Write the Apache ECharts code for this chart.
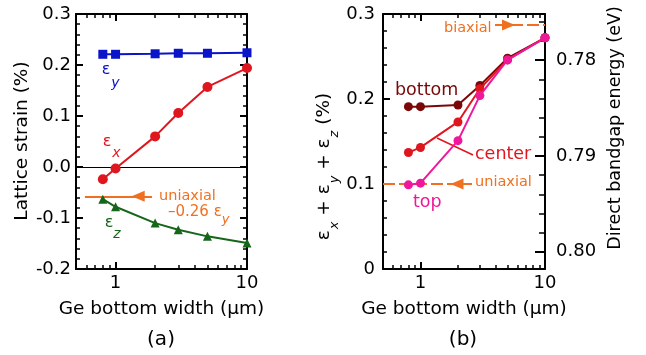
<!DOCTYPE html>
<html>
<head>
<meta charset="utf-8">
<script src="https://cdn.jsdelivr.net/npm/echarts@6/dist/echarts.min.js"></script>
<style>
  html, body { margin: 0; padding: 0; background: #fff; }
  #chart { width: 646px; height: 355px; }
</style>
</head>
<body>
<div id="chart"></div>
<script>
// Ge bottom width (µm) of each simulated structure
const widths = [0.8, 1, 2, 3, 5, 10];

// (a) lattice strain components (%)
const epsY = [0.221, 0.221, 0.222, 0.223, 0.223, 0.224];
const epsX = [-0.024, -0.003, 0.060, 0.106, 0.157, 0.194];
const epsZ = [-0.063, -0.078, -0.110, -0.123, -0.136, -0.149];
// uniaxial reference: eps_x = eps_z = -0.26 eps_y
const uniaxialRatio = -0.26;

// (b) volumetric strain eps_x + eps_y + eps_z (%) at three heights
const sumBottom = [0.191, 0.191, 0.193, 0.216, 0.248, 0.272];
const sumCenter = [0.137, 0.143, 0.173, 0.212, 0.246, 0.272];
const sumTop    = [0.099, 0.101, 0.151, 0.204, 0.246, 0.272];
const uniaxialSum = 0.100;
const biaxialSum  = 0.287;

// direct bandgap (eV) as a linear function of volumetric strain (%)
const bandgapAtZeroStrain = 0.8018;
const bandgapPerStrain = -0.0887;

// tick values
const widthMinorTicks = [0.6, 0.7, 0.8, 0.9, 2, 3, 4, 5, 6, 7, 8, 9];
const energyTicks = [0.78, 0.79, 0.80];
const energyMinorTicks = [0.776, 0.778, 0.782, 0.784, 0.786, 0.788, 0.792, 0.794, 0.796, 0.798];

const FONT = 'DejaVu Sans';
const C = {
  blue: '#0a14c8', red: '#e0161e', green: '#16661a', orange: '#ef7020',
  dark: '#7a0808', pink: '#f0189a'
};

const strainMax = 0.3;
const energyMin = bandgapAtZeroStrain + bandgapPerStrain * strainMax;
const energyMax = bandgapAtZeroStrain;

const pts = ys => widths.map((w, i) => [w, ys[i]]);

function xLog(grid, pos, labels) {
  return {
    type: 'log', logBase: 10, gridIndex: grid, position: pos, min: 0.5, max: 10,
    axisLine: { show: true, onZero: false, lineStyle: { color: '#000', width: 2 } },
    axisTick: { show: true, inside: true, length: 7, lineStyle: { color: '#000', width: 2 } },
    axisLabel: {
      show: labels, color: '#000', fontFamily: FONT, fontSize: 18, margin: 5,
      formatter: v => (Math.abs(v - 1) < 1e-9 || Math.abs(v - 10) < 1e-9) ? String(Math.round(v)) : ''
    },
    splitLine: { show: false }, minorTick: { show: false }
  };
}
function xMinor(grid, pos) {
  return {
    type: 'value', gridIndex: grid, position: pos, min: Math.log10(0.5), max: 1,
    axisLine: { show: false, onZero: false },
    axisTick: { show: true, inside: true, length: 4, customValues: widthMinorTicks.map(Math.log10),
                lineStyle: { color: '#000', width: 1.5 } },
    axisLabel: { show: false }, splitLine: { show: false }
  };
}
function yStrain(grid, pos, min, labels, fmt, margin) {
  return {
    type: 'value', gridIndex: grid, position: pos, min: min, max: strainMax, interval: 0.1,
    axisLine: { show: true, onZero: false, lineStyle: { color: '#000', width: 2 } },
    axisTick: { show: true, inside: true, length: 7, lineStyle: { color: '#000', width: 2 } },
    minorTick: { show: true, splitNumber: 5, length: 4, lineStyle: { color: '#000', width: 1.5 } },
    axisLabel: { show: labels, color: '#000', fontFamily: FONT, fontSize: 18, margin: margin, formatter: fmt },
    splitLine: { show: false }
  };
}

const fmtA = v => Math.abs(v) < 1e-9 ? '0.0' : v.toFixed(1);
const fmtB = v => Math.abs(v) < 1e-9 ? '0' : v.toFixed(1);

const uniaxialA = uniaxialRatio * epsY[0];

function text(x, y, str, size, color, extra) {
  return Object.assign({
    type: 'text', x: x, y: y, silent: true,
    style: Object.assign({
      text: str, fill: color || '#000', fontFamily: FONT, fontSize: size,
      align: 'left', verticalAlign: 'middle'
    }, (extra && extra.style) || {})
  }, extra && extra.el ? extra.el : {});
}
const center = { style: { align: 'center' } };
const sub = { style: { align: 'center', fontStyle: 'italic' } };
const vertical = { style: { align: 'center' }, el: { rotation: Math.PI / 2 } };

const arrowHead = { symbol: 'triangle', symbolSize: [11, 13] };

const option = {
  animation: false,
  backgroundColor: '#fff',
  grid: [
    { left: 76, top: 14, width: 171, height: 255, outerBoundsMode: 'none' },
    { left: 383, top: 14, width: 162, height: 255, outerBoundsMode: 'none' }
  ],
  xAxis: [
    xLog(0, 'bottom', true), xLog(0, 'top', false), xMinor(0, 'bottom'), xMinor(0, 'top'),
    xLog(1, 'bottom', true), xLog(1, 'top', false), xMinor(1, 'bottom'), xMinor(1, 'top')
  ],
  yAxis: [
    yStrain(0, 'left', -0.2, true, fmtA, 5),
    yStrain(0, 'right', -0.2, false, fmtA, 5),
    yStrain(1, 'left', 0, true, fmtB, 8),
    {
      type: 'value', gridIndex: 1, position: 'right', inverse: true, min: energyMin, max: energyMax,
      axisLine: { show: true, onZero: false, lineStyle: { color: '#000', width: 2 } },
      axisTick: { show: true, inside: true, length: 10, customValues: energyTicks,
                  lineStyle: { color: '#000', width: 2 } },
      axisLabel: { show: true, customValues: energyTicks, color: '#000', fontFamily: FONT, fontSize: 18,
                   margin: 11, formatter: v => v.toFixed(2) },
      splitLine: { show: false }
    },
    {
      type: 'value', gridIndex: 1, position: 'right', inverse: true, min: energyMin, max: energyMax,
      axisLine: { show: false, onZero: false },
      axisTick: { show: true, inside: true, length: 6, customValues: energyMinorTicks,
                  lineStyle: { color: '#000', width: 1.5 } },
      axisLabel: { show: false }, splitLine: { show: false }
    }
  ],
  series: [
    // (a) uniaxial reference arrow
    {
      type: 'line', xAxisIndex: 0, yAxisIndex: 0, data: [], silent: true,
      markLine: {
        z: 1, silent: true, symbol: ['none', 'none'], label: { show: false },
        lineStyle: { color: C.orange, width: 2, type: 'solid' },
        data: [
          [{ coord: [0.585, uniaxialA] }, { coord: [1.89, uniaxialA] }],
          [Object.assign({ coord: [1.486, uniaxialA] }, arrowHead), { coord: [1.89, uniaxialA], symbol: 'none' }]
        ]
      }
    },
    {
      name: 'εy', type: 'line', xAxisIndex: 0, yAxisIndex: 0, data: pts(epsY),
      symbol: 'rect', symbolSize: 9, color: C.blue, lineStyle: { width: 2 }, z: 3
    },
    {
      name: 'εx', type: 'line', xAxisIndex: 0, yAxisIndex: 0, data: pts(epsX),
      symbol: 'circle', symbolSize: 10, color: C.red, lineStyle: { width: 2 }, z: 3,
      markLine: {
        z: 1, silent: true, symbol: ['none', 'none'], label: { show: false },
        lineStyle: { color: '#000', width: 1, type: 'solid' },
        data: [{ yAxis: 0 }]
      }
    },
    {
      name: 'εz', type: 'line', xAxisIndex: 0, yAxisIndex: 0, data: pts(epsZ),
      symbol: 'triangle', symbolSize: 9, color: C.green, lineStyle: { width: 2 }, z: 3
    },
    // (b) uniaxial and biaxial reference arrows
    {
      type: 'line', xAxisIndex: 4, yAxisIndex: 2, data: [], silent: true,
      markLine: {
        z: 1, silent: true, symbol: ['none', 'none'], label: { show: false },
        lineStyle: { color: C.orange, width: 2, type: [12, 4] },
        data: [
          [{ coord: [0.5, uniaxialSum] }, { coord: [2.59, uniaxialSum] }],
          [Object.assign({ coord: [1.965, uniaxialSum] }, arrowHead), { coord: [2.59, uniaxialSum], symbol: 'none' }],
          [{ coord: [3.97, biaxialSum] }, { coord: [10, biaxialSum] }],
          [{ coord: [3.97, biaxialSum], symbol: 'none' }, Object.assign({ coord: [5.09, biaxialSum] }, arrowHead)]
        ]
      }
    },
    {
      name: 'bottom', type: 'line', xAxisIndex: 4, yAxisIndex: 2, data: pts(sumBottom),
      symbol: 'circle', symbolSize: 9, color: C.dark, lineStyle: { width: 2 }, z: 3
    },
    {
      name: 'center', type: 'line', xAxisIndex: 4, yAxisIndex: 2, data: pts(sumCenter),
      symbol: 'circle', symbolSize: 9, color: C.red, lineStyle: { width: 2 }, z: 4
    },
    {
      name: 'top', type: 'line', xAxisIndex: 4, yAxisIndex: 2, data: pts(sumTop),
      symbol: 'circle', symbolSize: 9, color: C.pink, lineStyle: { width: 2 }, z: 5
    }
  ],
  graphic: {
    elements: [
      // axis titles
      text(22, 141, 'Lattice strain (%)', 18.5, '#000', vertical),
      text(161.5, 309, 'Ge bottom width (μm)', 18.5, '#000', center),
      text(464, 309, 'Ge bottom width (μm)', 18.5, '#000', center),
      text(161, 340, '(a)', 20, '#000', center),
      text(463, 340, '(b)', 20, '#000', center),
      text(615, 128, 'Direct bandgap energy (eV)', 17.5, '#000', vertical),
      {
        type: 'text', x: 325.5, y: 166.5, rotation: Math.PI / 2, silent: true,
        style: {
          text: '{e|ε}{s|x}{e| + ε}{s|y}{e| + ε}{s|z}{e| (%)}',
          align: 'center', verticalAlign: 'middle', fill: '#000',
          rich: {
            e: { fontFamily: FONT, fontSize: 18.5, lineHeight: 22, verticalAlign: 'top' },
            s: { fontFamily: FONT, fontSize: 13, fontStyle: 'italic', lineHeight: 14,
                 padding: [14, 0, 0, 1], verticalAlign: 'top' }
          }
        }
      },
      // (a) series labels
      text(106, 70, 'ε', 16, C.blue, center),
      text(115.5, 83.5, 'y', 14, C.blue, sub),
      text(107, 142, 'ε', 16, C.red, center),
      text(116.5, 153, 'x', 14, C.red, sub),
      text(109, 223, 'ε', 16, C.green, center),
      text(117, 234, 'z', 14, C.green, sub),
      text(159, 196, 'uniaxial', 14.5, C.orange),
      text(168, 212, '–0.26 ε', 15, C.orange),
      text(225.5, 219.5, 'y', 13, C.orange, sub),
      // (b) series labels
      text(395, 90, 'bottom', 17.5, C.dark),
      text(475, 154, 'center', 17.5, C.red),
      text(413, 202, 'top', 17.5, C.pink),
      {
        type: 'line', silent: true,
        shape: { x1: 437, y1: 138, x2: 473, y2: 155 },
        style: { stroke: C.red, lineWidth: 1.5 }
      },
      text(475, 182, 'uniaxial', 14.5, C.orange),
      text(444, 28.5, 'biaxial', 14.5, C.orange)
    ]
  }
};

const chart = echarts.init(document.getElementById('chart'), null, { renderer: 'canvas' });
chart.setOption(option);
</script>
</body>
</html>
